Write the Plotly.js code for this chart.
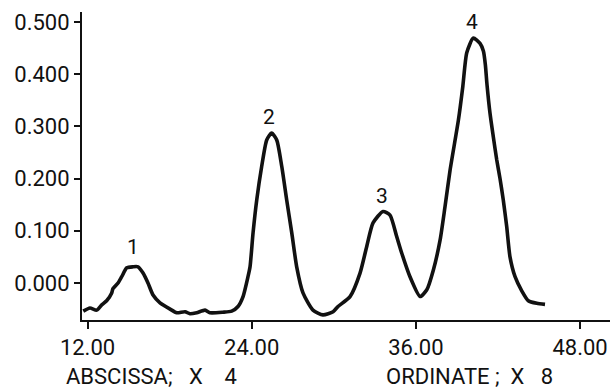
<!DOCTYPE html>
<html>
<head>
<meta charset="utf-8">
<script src="https://cdn.plot.ly/plotly-3.0.1.min.js"></script>
<style>
  html, body { margin: 0; padding: 0; background: #fff; }
  #chart { width: 613px; height: 391px; }
</style>
</head>
<body>
<div id="chart"></div>
<script>
// Traced chromatogram-like trace
const abscissa = [11.69, 12.18, 12.67, 13.04, 13.40, 13.77, 13.86, 14.23, 14.50, 14.87, 15.33, 15.69, 16.06, 16.42, 16.79, 17.30, 18.03, 18.52, 19.13, 19.49, 19.98, 20.59, 20.95, 21.90, 22.54, 23.00, 23.37, 23.73, 23.88, 24.10, 24.37, 24.73, 25.10, 25.46, 25.83, 26.20, 26.56, 26.93, 27.29, 27.75, 28.48, 29.21, 29.95, 30.31, 31.19, 31.92, 32.41, 32.87, 33.60, 34.11, 34.60, 34.97, 35.57, 36.31, 36.80, 37.28, 37.77, 38.13, 38.50, 39.11, 39.43, 39.72, 40.20, 40.69, 40.94, 41.08, 41.20, 41.42, 41.66, 41.91, 42.15, 42.39, 42.64, 42.88, 43.25, 43.74, 44.22, 44.84, 45.44];
const ordinate = [-0.054, -0.048, -0.052, -0.042, -0.034, -0.019, -0.011, 0.000, 0.012, 0.029, 0.031, 0.031, 0.019, 0.000, -0.023, -0.038, -0.050, -0.057, -0.055, -0.059, -0.057, -0.052, -0.057, -0.056, -0.054, -0.045, -0.026, 0.012, 0.031, 0.096, 0.159, 0.223, 0.274, 0.287, 0.274, 0.223, 0.159, 0.096, 0.031, -0.019, -0.052, -0.061, -0.055, -0.045, -0.026, 0.019, 0.070, 0.115, 0.137, 0.130, 0.089, 0.057, 0.012, -0.026, -0.013, 0.025, 0.082, 0.146, 0.216, 0.312, 0.376, 0.441, 0.469, 0.459, 0.444, 0.418, 0.380, 0.325, 0.280, 0.236, 0.200, 0.159, 0.108, 0.050, 0.012, -0.015, -0.034, -0.039, -0.041];

const xTickVals = [12, 24, 36, 48];
const xTickText = ["12.00", "24.00", "36.00", "48.00"];
const yTickVals = [0, 0.1, 0.2, 0.3, 0.4, 0.5];
const yTickText = ["0.000", "0.100", "0.200", "0.300", "0.400", "0.500"];

const peakLabels = ["1", "2", "3", "4"];
const peakX = [15.33, 25.27, 33.49, 40.11];
const peakY = [0.068, 0.317, 0.166, 0.5];

const fontFam = "Roboto, 'DejaVu Sans', sans-serif";

const trace = {
  x: abscissa, y: ordinate, type: 'scatter', mode: 'lines',
  line: { color: '#111', width: 3.6, shape: 'spline', smoothing: 0.6 },
  hoverinfo: 'skip'
};

const annotations = peakLabels.map((t, i) => ({
  x: peakX[i], y: peakY[i], xref: 'x', yref: 'y', text: t, showarrow: false,
  font: { family: fontFam, size: 21, color: '#111' }, yanchor: 'middle'
}));
annotations.push({
  x: -0.034, y: -0.182, xref: 'paper', yref: 'paper',
  text: 'ABSCISSA;&nbsp;&nbsp;&nbsp;X&nbsp;&nbsp;&nbsp;&nbsp;4', showarrow: false,
  xanchor: 'left', yanchor: 'middle', font: { family: fontFam, size: 22, color: '#111' }
});
annotations.push({
  x: 0.572, y: -0.182, xref: 'paper', yref: 'paper',
  text: 'ORDINATE&nbsp;;&nbsp;&nbsp;X&nbsp;&nbsp;&nbsp;8', showarrow: false,
  xanchor: 'left', yanchor: 'middle', font: { family: fontFam, size: 22, color: '#111' }
});

const layout = {
  width: 613, height: 391,
  margin: { l: 82, r: 3, t: 12, b: 71 },
  paper_bgcolor: '#fff', plot_bgcolor: '#fff',
  showlegend: false,
  xaxis: {
    range: [11.598, 50.19], tickvals: xTickVals, ticktext: xTickText,
    showline: true, linecolor: '#111', linewidth: 2, showgrid: false, zeroline: false,
    ticks: 'outside', ticklen: 7, tickwidth: 2, tickcolor: '#111',
    tickfont: { family: fontFam, size: 22, color: '#111' }
  },
  yaxis: {
    range: [-0.0709, 0.519], tickvals: yTickVals, ticktext: yTickText,
    showline: true, linecolor: '#111', linewidth: 2, showgrid: false, zeroline: false,
    ticks: 'outside', ticklen: 6, tickwidth: 2, tickcolor: '#111',
    tickfont: { family: fontFam, size: 22, color: '#111' }
  },
  annotations: annotations
};

Plotly.newPlot('chart', [trace], layout, { displayModeBar: false, staticPlot: true });
</script>
</body>
</html>
